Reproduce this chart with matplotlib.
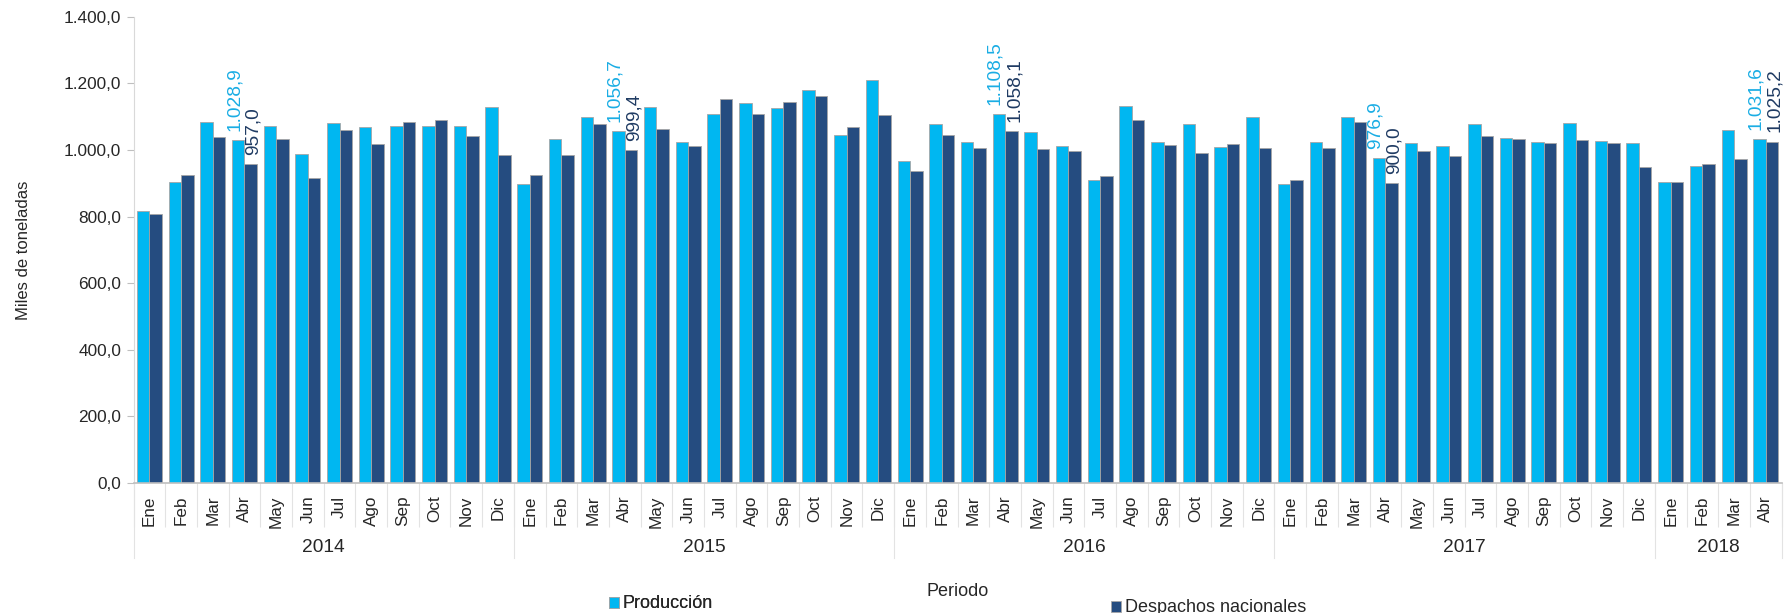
import matplotlib
matplotlib.use("Agg")
import matplotlib.pyplot as plt
import matplotlib.transforms as mtransforms
from matplotlib.patches import Patch
from matplotlib.ticker import FuncFormatter
import numpy as np

plt.rcParams['font.family'] = ['Liberation Sans', 'DejaVu Sans']

# Datos (miles de toneladas), ene-2014 a abr-2018
meses = ['Ene', 'Feb', 'Mar', 'Abr', 'May', 'Jun', 'Jul', 'Ago', 'Sep', 'Oct', 'Nov', 'Dic']
anios = ['2014', '2015', '2016', '2017', '2018']
meses_por_anio = [12, 12, 12, 12, 4]

produccion = [818, 905, 1085, 1028.9, 1073, 987, 1082, 1068, 1071, 1073, 1071, 1129,
              899, 1033, 1100, 1056.7, 1129, 1025, 1109, 1140, 1126, 1179, 1045, 1211,
              966, 1077, 1025, 1108.5, 1054, 1013, 911, 1132, 1025, 1077, 1009, 1100,
              897, 1025, 1100, 976.9, 1021, 1013, 1077, 1036, 1025, 1082, 1026, 1021,
              905, 952, 1061, 1031.6]
despachos = [807, 926, 1040, 957.0, 1034, 916, 1059, 1019, 1085, 1091, 1043, 984,
             925, 986, 1079, 999.4, 1062, 1013, 1153, 1109, 1143, 1161, 1069, 1106,
             937, 1045, 1007, 1058.1, 1003, 996, 922, 1091, 1016, 992, 1019, 1007,
             911, 1007, 1083, 900.0, 997, 983, 1041, 1032, 1021, 1029, 1021, 949,
             905, 958, 974, 1025.2]

# etiquetas solo en abril de cada año
idx_etiquetas = [3, 15, 27, 39, 51]

c_prod = '#00B7F1'
c_desp = '#254C80'
c_lab_prod = '#1AADE4'
c_lab_desp = '#1F3B63'


def fmt_es(v, pos=None):
    s = f'{v:,.1f}'
    return s.replace(',', 'X').replace('.', ',').replace('X', '.')


etiquetas_mes = []
for n in meses_por_anio:
    etiquetas_mes += meses[:n]
x = np.arange(len(produccion))

fig = plt.figure(figsize=(17.9, 6.13), dpi=100)
ax = fig.add_axes([0.0746, 0.2121, 0.9207, 0.7607])

w = 0.395
ax.bar(x - w / 2, produccion, w, color=c_prod, edgecolor='#A6A6A6', linewidth=0.6)
ax.bar(x + w / 2, despachos, w, color=c_desp, edgecolor='#A6A6A6', linewidth=0.6)

for i in idx_etiquetas:
    ax.annotate(fmt_es(produccion[i]), (x[i] - w / 2, produccion[i]), xytext=(-3, 6.5),
                textcoords='offset points', rotation=90, ha='center', va='bottom',
                fontsize=13.8, color=c_lab_prod)
    ax.annotate(fmt_es(despachos[i]), (x[i] + w / 2, despachos[i]), xytext=(2, 6.5),
                textcoords='offset points', rotation=90, ha='center', va='bottom',
                fontsize=13.8, color=c_lab_desp)

ax.set_xlim(-0.5, len(x) - 0.5)
ax.set_ylim(0, 1400)
ax.set_yticks(np.arange(0, 1401, 200))
ax.yaxis.set_major_formatter(FuncFormatter(fmt_es))
ax.tick_params(axis='y', length=5, color='#BFBFBF', labelsize=12.4, labelcolor='#262626', pad=4)

ax.set_xticks(x)
ax.set_xticklabels(etiquetas_mes, rotation=90, fontsize=12.3, color='#262626')
ax.set_xticks(np.arange(-0.5, len(x), 1), minor=True)
ax.tick_params(axis='x', which='major', length=0, pad=9)
ax.tick_params(axis='x', which='minor', length=32, color='#E3E3E3', width=0.8)

for s in ['top', 'right']:
    ax.spines[s].set_visible(False)
ax.spines['left'].set_color('#D9D9D9')
ax.spines['bottom'].set_color('#BFBFBF')
ax.spines['bottom'].set_linewidth(1.2)

ax.set_ylabel('Miles de toneladas', fontsize=12, color='#262626')
ax.yaxis.set_label_coords(-0.062, 0.5)

# años y separadores
tr = mtransforms.blended_transform_factory(ax.transData, fig.transFigure)
inicio = -0.5
bordes = [inicio]
for anio, n in zip(anios, meses_por_anio):
    ax.text(inicio + n / 2, 1 - 548 / 613, anio, transform=tr, ha='center', va='center',
            fontsize=13.8, color='#262626')
    inicio += n
    bordes.append(inicio)
for b in bordes:
    ax.plot([b, b], [0.2121, 1 - 558 / 613], transform=tr, color='#E3E3E3',
            linewidth=0.8, clip_on=False)

fig.text(958 / 1790, 1 - 591 / 613, 'Periodo', ha='center', va='center', fontsize=13,
         color='#262626')

# leyenda: dos entradas separadas como en el original
leg1 = fig.legend([Patch(facecolor=c_prod, edgecolor='#A6A6A6', linewidth=0.6)], ['Producción'],
                  loc='center left', bbox_to_anchor=(609 / 1790, 1 - 604 / 613), frameon=False,
                  fontsize=13, handlelength=0.55, handleheight=0.55, handletextpad=0.2,
                  borderpad=0, borderaxespad=0, labelcolor='#262626')
fig.add_artist(leg1)
fig.legend([Patch(facecolor=c_desp, edgecolor='#A6A6A6', linewidth=0.6)], ['Despachos nacionales'],
           loc='center left', bbox_to_anchor=(1111 / 1790, 1 - 608 / 613), frameon=False,
           fontsize=13, handlelength=0.55, handleheight=0.55, handletextpad=0.2,
           borderpad=0, borderaxespad=0, labelcolor='#262626')

fig.savefig('out.png', dpi=100)
